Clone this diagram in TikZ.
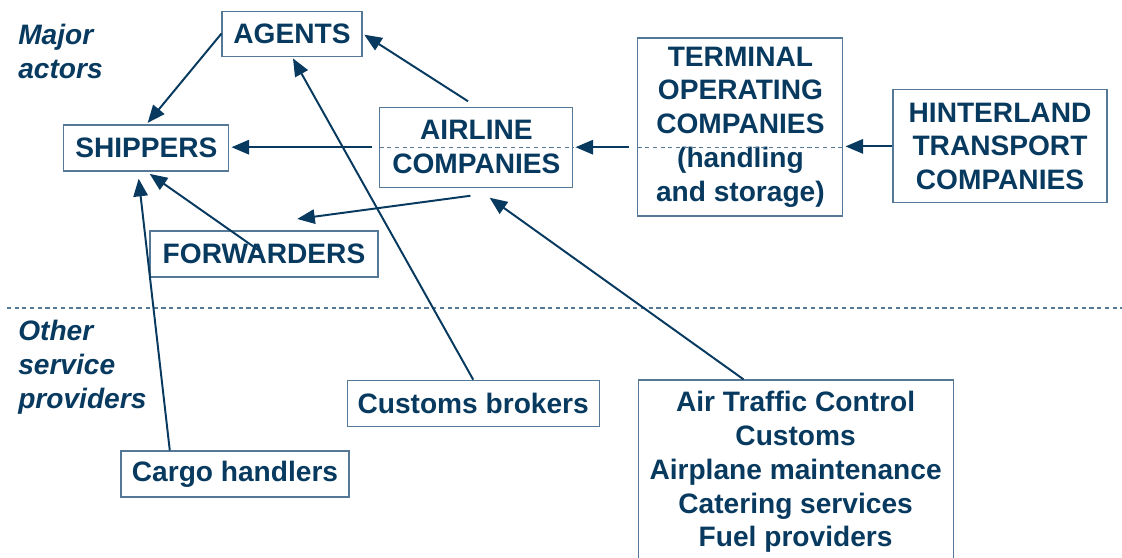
\documentclass[tikz,border=0pt]{standalone}
\usepackage{fontspec}
\setmainfont{Liberation Sans}
\usetikzlibrary{arrows.meta,calc}
\definecolor{navy}{RGB}{8,58,96}
\definecolor{frame}{RGB}{84,120,150}

\begin{document}
\begin{tikzpicture}[font=\fontsize{20}{24}\selectfont\bfseries, text=navy,
  box/.style={draw=frame, line width=0.8pt, align=center, inner sep=0pt},
  group/.style={anchor=west, align=left, inner sep=0pt, font=\fontsize{20}{24}\selectfont\bfseries\itshape},
  arr/.style={draw=navy, line width=1.4pt, -{Triangle[length=0.44cm,width=0.36cm]}, shorten >=0.05cm},
  midline/.style={draw=frame, line width=0.8pt, dash pattern=on 3pt off 2.5pt}]
\useasboundingbox (0cm,0cm) rectangle (28.05cm,-13.95cm);
% two layers
\draw[midline] (0.17cm,-7.7cm) -- (28.05cm,-7.7cm);
\node[group] (top) at (0.45cm,-1.29cm) {Major\\actors};
\node[group] (bottom) at (0.45cm,-9.18cm) {Other\\service\\providers};
% major actors
\node[box, minimum width=3.5cm, minimum height=1.125cm] (1) at (7.3cm,-0.84cm) {AGENTS};
\node[box, minimum width=4.125cm, minimum height=1.15cm] (2) at (3.66cm,-3.7cm) {SHIPPERS};
\node[box, minimum width=4.825cm, minimum height=2cm] (3) at (11.91cm,-3.68cm) {AIRLINE\\COMPANIES};
\node[box, minimum width=5.125cm, minimum height=4.45cm] (4) at (18.51cm,-3.175cm) {TERMINAL\\OPERATING\\COMPANIES\\(handling\\and storage)};
\node[box, minimum width=5.35cm, minimum height=2.825cm] (5) at (25cm,-3.66cm) {HINTERLAND\\TRANSPORT\\COMPANIES};
\node[box, minimum width=5.7cm, minimum height=1.15cm] (6) at (6.6cm,-6.35cm) {FORWARDERS};
% service providers
\node[box, minimum width=6.3cm, minimum height=1.15cm] (7) at (11.83cm,-10.08cm) {Customs brokers};
\node[box, minimum width=5.7cm, minimum height=1.15cm] (8) at (5.875cm,-11.85cm) {Cargo handlers};
\node[box, minimum width=7.875cm, minimum height=4.6cm] (9) at (19.89cm,-11.8cm) {Air Traffic Control\\Customs\\Airplane maintenance\\Catering services\\Fuel providers};
\draw[midline] (3.west) -- (3.east);
\draw[midline] (4.west |- 3.west) -- (4.east |- 3.west);
% flows
\draw[arr] (1.west) -- (2.north);
\draw[arr, shorten <=0.25cm] (3.north) -- (1.east);
\draw[arr] (7.north) -- (1.south);
\draw[arr, shorten <=0.18cm] (3.west) -- (2.east |- 3.west);
\draw[arr, shorten <=0.22cm] (4.west |- 3.west) -- (3.east);
\draw[arr] (5.west) -- (4.east |- 5.west);
\draw[arr, shorten <=0.15cm, shorten >=0.1cm] (6.center) -- (2.south);
\draw[arr, shorten >=0.18cm] ([xshift=-1.63cm]8.north) -- (2.250);
\draw[arr] ([shift={(-0.15cm,-0.2cm)}]3.south) -- ([shift={(0.78cm,0.28cm)}]6.north);
\draw[arr] ([xshift=-1.3cm]9.north) -- ([shift={(0.29cm,-0.22cm)}]3.south);
\end{tikzpicture}
\end{document}
